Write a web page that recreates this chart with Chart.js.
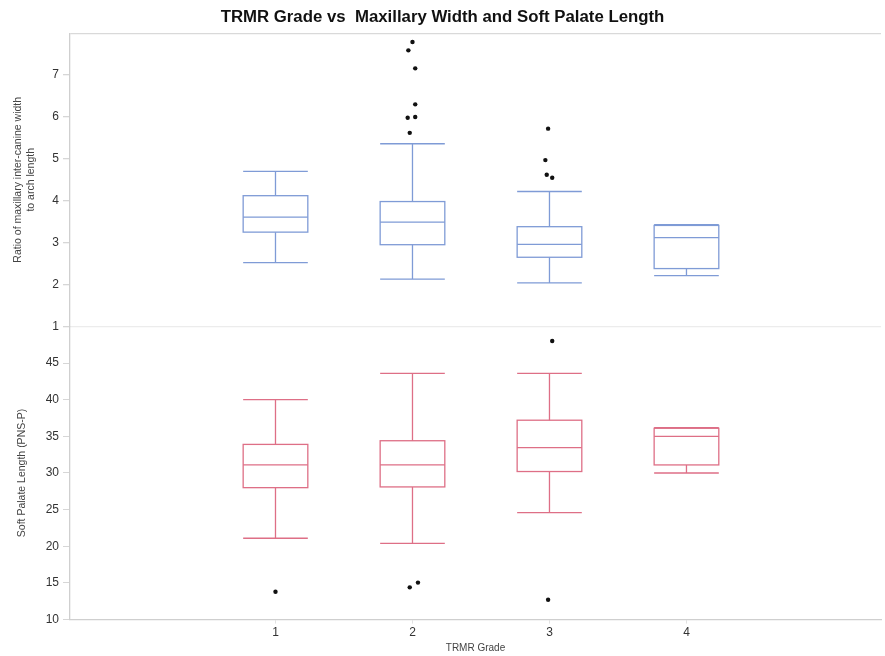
<!DOCTYPE html>
<html>
<head>
<meta charset="utf-8">
<script src="https://cdn.jsdelivr.net/npm/chart.js@4/dist/chart.umd.min.js"></script>
<style>
  html, body { margin: 0; padding: 0; background: #fff; }
  #chart { display: block; }
</style>
</head>
<body>
<canvas id="chart" width="885" height="656"></canvas>
<script>
// TRMR grade categories
const grades = [1, 2, 3, 4];

// upper panel: ratio of maxillary inter-canine width to arch length
const ratioMin = [2.52, 2.13, 2.04, 2.21];
const ratioQ1  = [3.25, 2.95, 2.65, 2.38];
const ratioMed = [3.61, 3.49, 2.96, 3.12];
const ratioQ3  = [4.12, 3.98, 3.38, 3.41];
const ratioMax = [4.70, 5.36, 4.22, 3.43];
const ratioOutliers = [
  { x: 2.00, y: 7.79 }, { x: 1.97, y: 7.59 }, { x: 2.02, y: 7.16 },
  { x: 2.02, y: 6.30 }, { x: 1.965, y: 5.98 }, { x: 2.02, y: 6.00 },
  { x: 1.98, y: 5.62 },
  { x: 2.99, y: 5.72 }, { x: 2.97, y: 4.97 }, { x: 2.98, y: 4.62 },
  { x: 3.02, y: 4.55 }
];

// lower panel: soft palate length (PNS-P)
const palateMin = [21.1, 20.4, 24.6, 30.0];
const palateQ1  = [28.0, 28.1, 30.2, 31.1];
const palateMed = [31.1, 31.1, 33.45, 35.0];
const palateQ3  = [33.9, 34.4, 37.2, 36.1];
const palateMax = [40.0, 43.6, 43.6, 36.2];
const palateOutliers = [
  { x: 1.00, y: 13.8 },
  { x: 1.98, y: 14.4 }, { x: 2.04, y: 15.05 },
  { x: 3.02, y: 48.0 }, { x: 2.99, y: 12.7 }
];

const xTicks = [1, 2, 3, 4];

const BLUE = '#7f9bd6';
const RED = '#de6f86';
const AXIS = '#cfcfcf';
const FONT = "'Liberation Sans', Arial, sans-serif";

// draws the boxes and whiskers with the chart's own scales
const boxPlotPlugin = {
  id: 'boxPlot',
  beforeDatasetsDraw(chart) {
    const ctx = chart.ctx;
    const x = chart.scales.x;
    const half = 0.236;
    const panels = [
      { scale: chart.scales.yTop, color: BLUE, lo: ratioMin, q1: ratioQ1, med: ratioMed, q3: ratioQ3, hi: ratioMax },
      { scale: chart.scales.yBot, color: RED, lo: palateMin, q1: palateQ1, med: palateMed, q3: palateQ3, hi: palateMax }
    ];
    ctx.save();
    ctx.lineWidth = 1.3;
    panels.forEach(p => {
      ctx.strokeStyle = p.color;
      grades.forEach((g, i) => {
        const xl = x.getPixelForValue(g - half);
        const xr = x.getPixelForValue(g + half);
        const xc = x.getPixelForValue(g);
        const yLo = p.scale.getPixelForValue(p.lo[i]);
        const yQ1 = p.scale.getPixelForValue(p.q1[i]);
        const yMed = p.scale.getPixelForValue(p.med[i]);
        const yQ3 = p.scale.getPixelForValue(p.q3[i]);
        const yHi = p.scale.getPixelForValue(p.hi[i]);
        ctx.beginPath();
        // whiskers
        ctx.moveTo(xc, yQ3); ctx.lineTo(xc, yHi);
        ctx.moveTo(xc, yQ1); ctx.lineTo(xc, yLo);
        // caps
        ctx.moveTo(xl, yHi); ctx.lineTo(xr, yHi);
        ctx.moveTo(xl, yLo); ctx.lineTo(xr, yLo);
        // median
        ctx.moveTo(xl, yMed); ctx.lineTo(xr, yMed);
        ctx.stroke();
        ctx.strokeRect(xl, yQ3, xr - xl, yQ1 - yQ3);
      });
    });
    ctx.restore();
  }
};

const tickFont = { family: FONT, size: 12 };

new Chart(document.getElementById('chart'), {
  type: 'scatter',
  data: {
    datasets: [
      {
        label: 'Ratio outliers',
        data: ratioOutliers,
        yAxisID: 'yTop',
        backgroundColor: '#111',
        borderColor: '#111',
        pointRadius: 2.2,
        borderWidth: 0
      },
      {
        label: 'Palate outliers',
        data: palateOutliers,
        yAxisID: 'yBot',
        backgroundColor: '#111',
        borderColor: '#111',
        pointRadius: 2.2,
        borderWidth: 0
      }
    ]
  },
  options: {
    responsive: false,
    animation: false,
    layout: { padding: { left: 0, right: 0, top: 0, bottom: 2 } },
    plugins: {
      legend: { display: false },
      tooltip: { enabled: false },
      title: {
        display: true,
        text: 'TRMR Grade vs  Maxillary Width and Soft Palate Length',
        color: '#111',
        font: { family: FONT, size: 16.8, weight: 'bold' },
        padding: { top: 7, bottom: 6 }
      }
    },
    scales: {
      x: {
        type: 'linear',
        min: -0.5,
        max: 5.42,
        afterBuildTicks: s => { s.ticks = xTicks.map(v => ({ value: v })); },
        ticks: { color: '#333', font: tickFont, padding: 2 },
        grid: { drawOnChartArea: false, color: 'transparent', tickColor: '#e2e2e2', tickLength: 4 },
        border: { display: true, color: AXIS, width: 1.3 },
        title: {
          display: true,
          text: 'TRMR Grade',
          color: '#444',
          font: { family: FONT, size: 10 },
          padding: { top: 0, bottom: 0 }
        }
      },
      // defined first so the stack puts it at the bottom
      yBot: {
        type: 'linear',
        position: 'left',
        stack: 'panels',
        stackWeight: 1,
        min: 10,
        max: 50,
        ticks: {
          stepSize: 5,
          color: '#333',
          font: tickFont,
          padding: 4,
          callback: v => (v === 50 ? '' : v)
        },
        grid: {
          color: 'transparent',
          tickColor: c => (c.tick && c.tick.value === 50 ? 'transparent' : '#d6d6d6'),
          tickLength: 7
        },
        border: { display: true, color: AXIS, width: 1.3 },
        title: {
          display: true,
          text: 'Soft Palate Length (PNS-P)',
          color: '#444',
          font: { family: FONT, size: 10.5 },
          padding: { top: 16, bottom: 0 }
        },
        afterFit: s => { s.width = 70; }
      },
      yTop: {
        type: 'linear',
        position: 'left',
        stack: 'panels',
        stackWeight: 1,
        min: 1,
        max: 8,
        ticks: {
          stepSize: 1,
          color: '#333',
          font: tickFont,
          padding: 4,
          callback: v => (v === 8 ? '' : v)
        },
        grid: {
          color: c => (c.tick && (c.tick.value === 8) ? '#d9d9d9' : (c.tick && c.tick.value === 1 ? '#ececec' : 'transparent')),
          tickColor: c => (c.tick && c.tick.value === 8 ? 'transparent' : '#d6d6d6'),
          tickLength: 7,
          lineWidth: 1.3
        },
        border: { display: true, color: AXIS, width: 1.3 },
        title: {
          display: true,
          text: ['Ratio of maxillary inter-canine width', 'to arch length'],
          color: '#444',
          font: { family: FONT, size: 10.5 },
          padding: { top: 12, bottom: 0 }
        },
        afterFit: s => { s.width = 70; }
      }
    }
  },
  plugins: [boxPlotPlugin]
});
</script>
</body>
</html>
